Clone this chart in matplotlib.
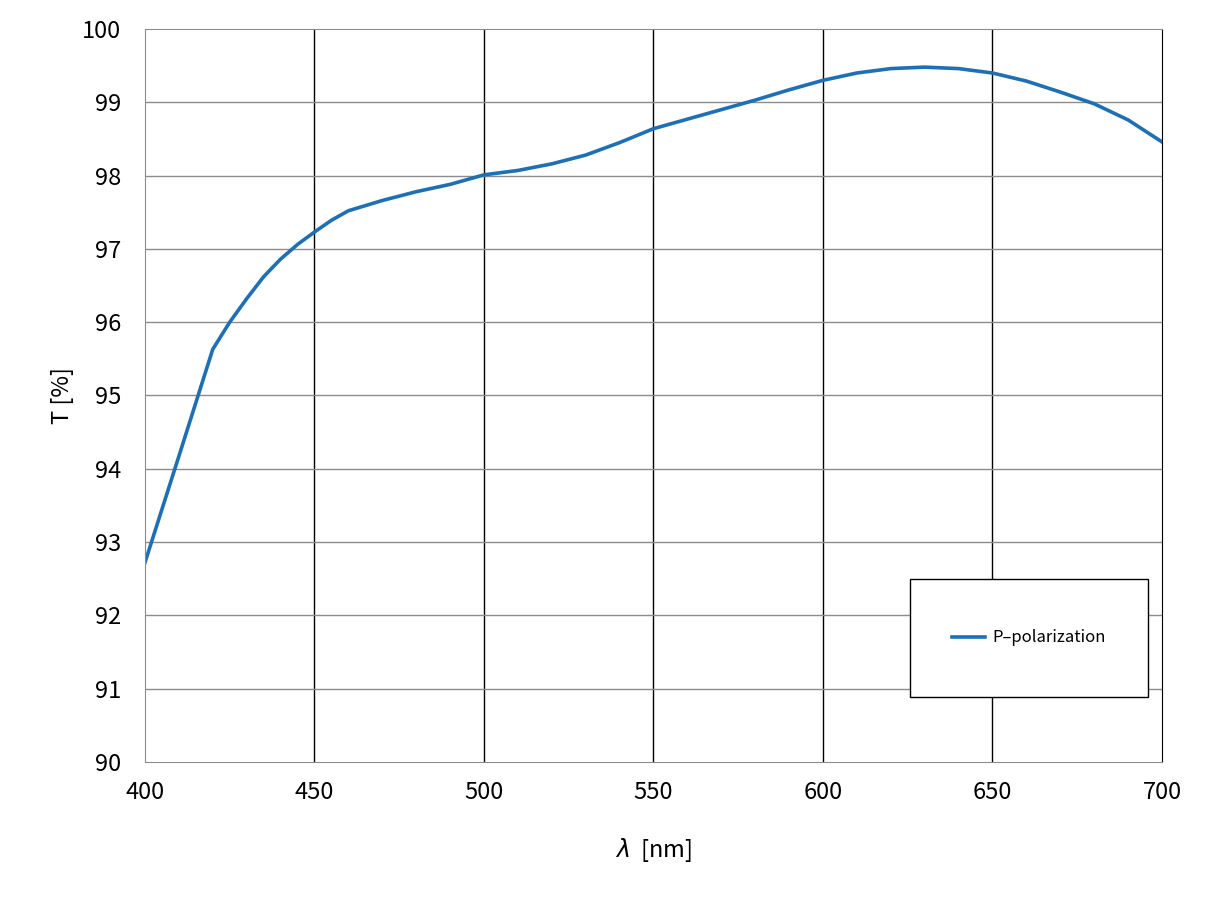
import numpy as np
import matplotlib.pyplot as plt
from matplotlib.patches import Rectangle

# wavelength [nm] and transmittance [%]
wavelength = [400, 410, 420, 425, 430, 435, 440, 445, 450, 455, 460, 470, 480, 490, 500,
              510, 520, 530, 540, 550, 560, 570, 580, 590, 600,
              610, 620, 630, 640, 650, 660, 670, 680, 690, 700]
trans_p = [92.72, 94.17, 95.63, 96.00, 96.32, 96.62, 96.86, 97.06, 97.23, 97.39, 97.52,
           97.66, 97.78, 97.88, 98.01,
           98.07, 98.16, 98.28, 98.45, 98.64, 98.77, 98.90, 99.03, 99.17, 99.30,
           99.40, 99.46, 99.48, 99.46, 99.40, 99.29, 99.14, 98.98, 98.76, 98.46]

x_ticks = [400, 450, 500, 550, 600, 650, 700]
y_ticks = [90, 91, 92, 93, 94, 95, 96, 97, 98, 99, 100]

plt.rcParams['font.family'] = ['Noto Sans CJK JP', 'DejaVu Sans']

fig = plt.figure(figsize=(12.1, 9.07), dpi=100)
ax = fig.add_axes([0.1198, 0.160, 0.8405, 0.808])

ax.plot(wavelength, trans_p, color='#1f6fb4', lw=2.6, label='P\u2013polarization')

ax.set_xlim(400, 700)
ax.set_ylim(90, 100)
ax.set_xticks(x_ticks)
ax.set_yticks(y_ticks)
ax.tick_params(length=0, labelsize=17)
ax.tick_params(axis='x', pad=14)
ax.tick_params(axis='y', pad=17)

# vertical grid black, horizontal grid gray
for xv in x_ticks[1:-1]:
    ax.axvline(xv, color='black', lw=1.0, zorder=0)
for yv in y_ticks[1:-1]:
    ax.axhline(yv, color='#8c8c8c', lw=1.0, zorder=0)

for side in ['left', 'top', 'bottom']:
    ax.spines[side].set_color('#8c8c8c')
ax.spines['right'].set_color('black')

ax.set_xlabel('$\\lambda$  [nm]', fontsize=17)
ax.set_ylabel('T [%]', fontsize=17)
ax.xaxis.set_label_coords(0.5, -0.101)
ax.yaxis.set_label_coords(-0.070, 0.5)

# legend box
ax.add_patch(Rectangle((0.752, 0.0887), 0.234, 0.161, transform=ax.transAxes,
                       facecolor='white', edgecolor='black', lw=1.0, zorder=3))
leg = ax.legend(loc='center', bbox_to_anchor=(0.752, 0.0887, 0.234, 0.161),
                frameon=False, fontsize=12, handlelength=2.0, handletextpad=0.4)
leg.set_zorder(4)

fig.savefig('out.png', dpi=100)
